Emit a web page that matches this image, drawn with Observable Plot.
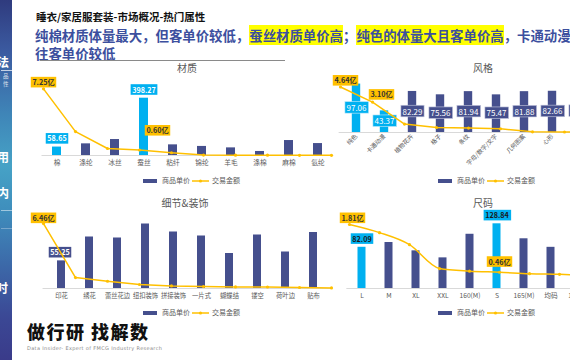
<!DOCTYPE html>
<html><head><meta charset="utf-8">
<script src="https://cdn.jsdelivr.net/npm/d3@7"></script>
<script src="https://cdn.jsdelivr.net/npm/@observablehq/plot@0.6"></script>
<style>
body{margin:0;width:570px;height:360px;overflow:hidden;background:#fff;position:relative;font-family:"Noto Sans CJK SC","Noto Sans",sans-serif;}
.abs{position:absolute}
#side{position:absolute;left:0;top:0;width:12px;height:360px;overflow:hidden;
 background:linear-gradient(180deg,#2f3b7e 0%,#3b5aa0 14%,#3f86b8 32%,#46a2c6 46%,#3f8fbd 58%,#3c68a8 74%,#3b4895 88%,#3a3b8a 100%);}
.sc{position:absolute;color:#fff;font-weight:bold;font-size:12px;line-height:12px;}
.hl{background:#ffff00}
.ttl{position:absolute;font-size:10px;color:#595959;transform:translateX(-50%);white-space:nowrap;line-height:12px}
.lg{position:absolute;display:flex;align-items:center;font-size:7px;color:#595959;white-space:nowrap;line-height:9px}
.lg .bar{display:inline-block;width:14px;height:4px;background:#454f8d;margin-right:5px}
</style></head><body>
<script>
// ---------- data ----------
const materialCats = ["棉","涤纶","冰丝","蚕丝","粘纤","锦纶","羊毛","涤棉","麻棉","氨纶"];
const materialPrice = [58.65,81,111,398.27,74,63,53,28,104,83];
const materialAmount = [7.25,2.6,0.76,0.60,0.30,0.05,0.04,0.03,0.02,0.02];
const materialHighlight = ["棉","蚕丝"];

const styleCats = ["纯色","卡通动漫","植物花卉","格子","条纹","字母/数字/文字","几何图案","心形","动物"];
const stylePrice = [97.06,43.37,82.29,75.56,81.94,75.47,81.88,82.66,84];
const styleAmount = [4.64,3.10,0.86,0.51,0.45,0.38,0.07,0.05,0.04];
const styleHighlight = ["纯色","卡通动漫"];

const detailCats = ["印花","绣花","蕾丝花边","纽扣装饰","拼接装饰","一片式","蝴蝶结","镂空","荷叶边","贴布"];
const detailPrice = [55.25,103,101,129,113,105,70,107,73,112];
const detailAmount = [6.46,1.09,0.72,0.40,0.26,0.20,0.16,0.15,0.10,0.06];
const detailHighlight = [];

const sizeCats = ["L","M","XL","XXL","160(M)","S","165(M)","均码","170(L)"];
const sizePrice = [82.09,91.6,75,61,108,128.84,99,82,90];
const sizeAmount = [1.81,1.58,1.24,0.565,0.49,0.46,0.42,0.40,0.37];
const sizeHighlight = ["L","S"];

// ---------- styling ----------
const FONT = '"Noto Sans CJK SC","Noto Sans",sans-serif';
const NAVY = "#454f8d", CYAN = "#00b0f0", GOLD = "#ffc000";

function el(html){const d=document.createElement("div");d.innerHTML=html;return d.firstElementChild;}

function combo(c){
  const data = c.cats.map((cat,i)=>({cat,price:c.price[i],amount:c.amount[i],hi:c.highlight.includes(cat)}));
  const wrap = document.createElement("div");
  wrap.style.cssText=`position:absolute;left:${c.left}px;top:${c.top}px;width:${c.width}px;height:${c.height}px;`;
  document.body.appendChild(wrap);
  const base = {width:c.width,height:c.height,marginLeft:c.ml,marginRight:c.mr,marginTop:c.mt,marginBottom:c.mb,
    style:{background:"transparent",fontFamily:FONT,fontSize:c.tickFont||"6.7px",color:"#595959",overflow:"visible"}};
  const boxes=[];
  const labels=(specs,field,fmt)=>specs.map((s)=>{
    const sel=data.filter(d=>s.cats.includes(d.cat));
    boxes.push({texts:sel.map(d=>fmt(d[field])),fill:s.box,stroke:s.stroke});
    return Plot.text(sel,{x:"cat",y:s.mid?(d=>d[field]/2):field,
      text:d=>fmt(d[field]),dx:s.dx||0,dy:s.dy||0,fill:s.color,fontSize:s.size||7.2,
      fontWeight:s.weight||"bold",fontFamily:FONT});
  });
  const barSvg = Plot.plot({...base,
    x:{domain:c.cats,padding:0,label:null,tickSize:0,tickPadding:c.tickPad||5,tickRotate:c.rotate||0},
    y:{domain:[0,c.priceMax],axis:null},
    marks:[
      Plot.ruleY([0],{stroke:"#d9d9d9",strokeWidth:1}),
      Plot.barY(data.filter(d=>!d.hi),{x:"cat",y:"price",fill:NAVY,insetLeft:c.inset,insetRight:c.inset}),
      Plot.barY(data.filter(d=>d.hi),{x:"cat",y:"price",fill:CYAN,insetLeft:c.inset,insetRight:c.inset}),
      ...labels(c.priceLabels,"price",v=>v.toFixed(2))
    ]});
  const lineSvg = Plot.plot({...base,
    x:{domain:c.cats,padding:0,axis:null},
    y:{domain:[0,c.amountMax],axis:null},
    marks:[
      Plot.line(data,{x:"cat",y:"amount",stroke:GOLD,strokeWidth:1.5,curve:c.curve||"linear"}),
      Plot.dot(data,{x:"cat",y:"amount",r:1.6,fill:GOLD}),
      ...labels(c.amountLabels,"amount",v=>v.toFixed(2)+"亿")
    ]});
  for(const s of [barSvg,lineSvg]){s.style.position="absolute";s.style.left="0";s.style.top="0";wrap.appendChild(s);}
  const allText=[...wrap.querySelectorAll("text")];
  for(const b of boxes){
    allText.filter(t=>b.texts.includes(t.textContent)).forEach(t=>{
      const bb=t.getBBox();
      const r=document.createElementNS("http://www.w3.org/2000/svg","rect");
      r.setAttribute("x",bb.x-1.6);r.setAttribute("y",bb.y-0.3);
      r.setAttribute("width",bb.width+3.2);r.setAttribute("height",bb.height+0.6);
      r.setAttribute("fill",b.fill);
      if(b.stroke){r.setAttribute("stroke",b.stroke);r.setAttribute("stroke-width","0.6");}
      if(t.getAttribute("transform"))r.setAttribute("transform",t.getAttribute("transform"));
      t.parentNode.insertBefore(r,t);
    });
  }
}

// ---------- page chrome ----------
document.body.appendChild(el(`<div id="side">
  <div class="sc" style="left:-3px;top:56px">法</div>
  <div style="position:absolute;left:1px;top:70px;width:11px;height:1px;background:rgba(255,255,255,.7)"></div>
  <div class="sc" style="left:3px;top:72px;font-size:5.5px;line-height:8px;font-weight:normal;opacity:.8">品<br>性</div>
  <div class="sc" style="left:-3px;top:151px">用</div>
  <div class="sc" style="left:-3px;top:187px">内</div>
  <div style="position:absolute;left:1px;top:210px;width:11px;height:1px;background:rgba(255,255,255,.5)"></div>
  <div style="position:absolute;left:1px;top:228px;width:11px;height:1px;background:rgba(255,255,255,.3)"></div>
  <div class="sc" style="left:-4px;top:282px">时</div>
</div>`));
document.body.appendChild(el(`<div class="abs" style="left:36px;top:10px;font-size:10.5px;font-weight:bold;color:#111;white-space:nowrap;line-height:14px">睡衣/家居服套装-市场概况-热门属性</div>`));
document.body.appendChild(el(`<div class="abs" style="left:35px;top:26px;white-space:nowrap;font-size:13.4px;font-weight:bold;color:#3c4f9e;line-height:18px">纯棉材质体量最大，但客单价较低，<span class="hl">蚕丝材质单价高</span>；<span class="hl">纯色的体量大且客单价高</span>，卡通动漫图案往</div>`));
document.body.appendChild(el(`<div class="abs" style="left:35px;top:44px;white-space:nowrap;font-size:13.4px;font-weight:bold;color:#3c4f9e;line-height:18px">往客单价较低</div>`));
document.body.appendChild(el(`<div class="abs" style="left:40px;top:60px;width:245px;height:1px;background:#8a8a8a"></div>`));

// titles
[["材质",187,62],["风格",483,62],["细节&装饰",185,197],["尺码",483,197]].forEach(([t,x,y])=>{
  document.body.appendChild(el(`<div class="ttl" style="left:${x}px;top:${y}px">${t}</div>`));
});
// legends
const legendHTML=(x,y)=>`<div class="lg" style="left:${x}px;top:${y}px"><span class="bar"></span><span>商品单价</span><svg width="17" height="6" style="margin:0 3px 0 2px"><line x1="0" y1="3" x2="17" y2="3" stroke="${GOLD}" stroke-width="1.5"/><circle cx="8.5" cy="3" r="1.6" fill="${GOLD}"/></svg><span>交易金额</span></div>`;
[[143,176],[438,176],[143,308],[438,308]].forEach(([x,y])=>document.body.appendChild(el(legendHTML(x,y))));

// logo
document.body.appendChild(el(`<div class="abs" style="left:27px;top:320px;font-size:18px;font-weight:900;color:#111;letter-spacing:1.5px;white-space:nowrap;line-height:22px">做行研 找解数</div>`));
document.body.appendChild(el(`<div class="abs" style="left:27px;top:345px;font-size:5px;color:#8a8a8a;white-space:nowrap;letter-spacing:0.35px;line-height:6px;font-family:'DejaVu Sans',sans-serif">Data Insider- Expert of FMCG Industry Research</div>`));

// ---------- charts ----------
combo({id:"c1",cats:materialCats,price:materialPrice,amount:materialAmount,highlight:materialHighlight,
  left:20,top:60,width:320,height:110,ml:21.5,mr:8.5,mt:15,mb:15,inset:10,
  priceMax:556,amountMax:8.7,curve:"linear",
  priceLabels:[{cats:materialHighlight,dy:-8,color:"#fff",box:CYAN}],
  amountLabels:[{cats:["棉"],dy:-6,color:"#333",box:GOLD},{cats:["蚕丝"],dx:18,dy:-19,color:"#333",box:GOLD}]});

combo({id:"c2",cats:styleCats,price:stylePrice,amount:styleAmount,highlight:styleHighlight,
  left:290,top:60,width:320,height:118,ml:48.65,mr:13.05,mt:12,mb:46,inset:9.8,
  priceMax:120.3,amountMax:6.12,rotate:-45,tickPad:3,tickFont:"6px",curve:"linear",
  priceLabels:[{cats:styleCats.filter(c=>!styleHighlight.includes(c)),mid:true,color:"#fff",box:NAVY,stroke:"#c8cbe0",weight:"normal",size:8},
               {cats:styleHighlight,mid:true,color:"#fff",box:CYAN,stroke:"#c8ecfa",weight:"normal",size:8}],
  amountLabels:[{cats:["纯色"],dx:5,dy:-6,color:"#333",box:GOLD},{cats:["卡通动漫"],dx:9,dy:-7,color:"#333",box:GOLD}]});

combo({id:"c3",cats:detailCats,price:detailPrice,amount:detailAmount,highlight:detailHighlight,
  left:20,top:205,width:320,height:100,ml:22.55,mr:8.45,mt:13,mb:17,inset:10,
  priceMax:140,amountMax:6.96,tickFont:"6.3px",curve:"linear",
  priceLabels:[{cats:["印花"],dy:-8,dx:-1.5,color:"#fff",box:NAVY}],
  amountLabels:[{cats:["印花"],dy:-5,color:"#333",box:GOLD}]});

combo({id:"c4",cats:sizeCats,price:sizePrice,amount:sizeAmount,highlight:sizeHighlight,
  left:290,top:205,width:320,height:100,ml:56.35,mr:17.95,mt:13,mb:17,inset:9.5,
  priceMax:139.4,amountMax:1.98,curve:"monotone-x",
  priceLabels:[{cats:sizeHighlight,dy:-8,color:"#1a1a1a",box:CYAN}],
  amountLabels:[{cats:["L"],dx:3,dy:-6,color:"#333",box:GOLD},{cats:["S"],dy:-10,color:"#333",box:GOLD}]});
</script>
</body></html>
